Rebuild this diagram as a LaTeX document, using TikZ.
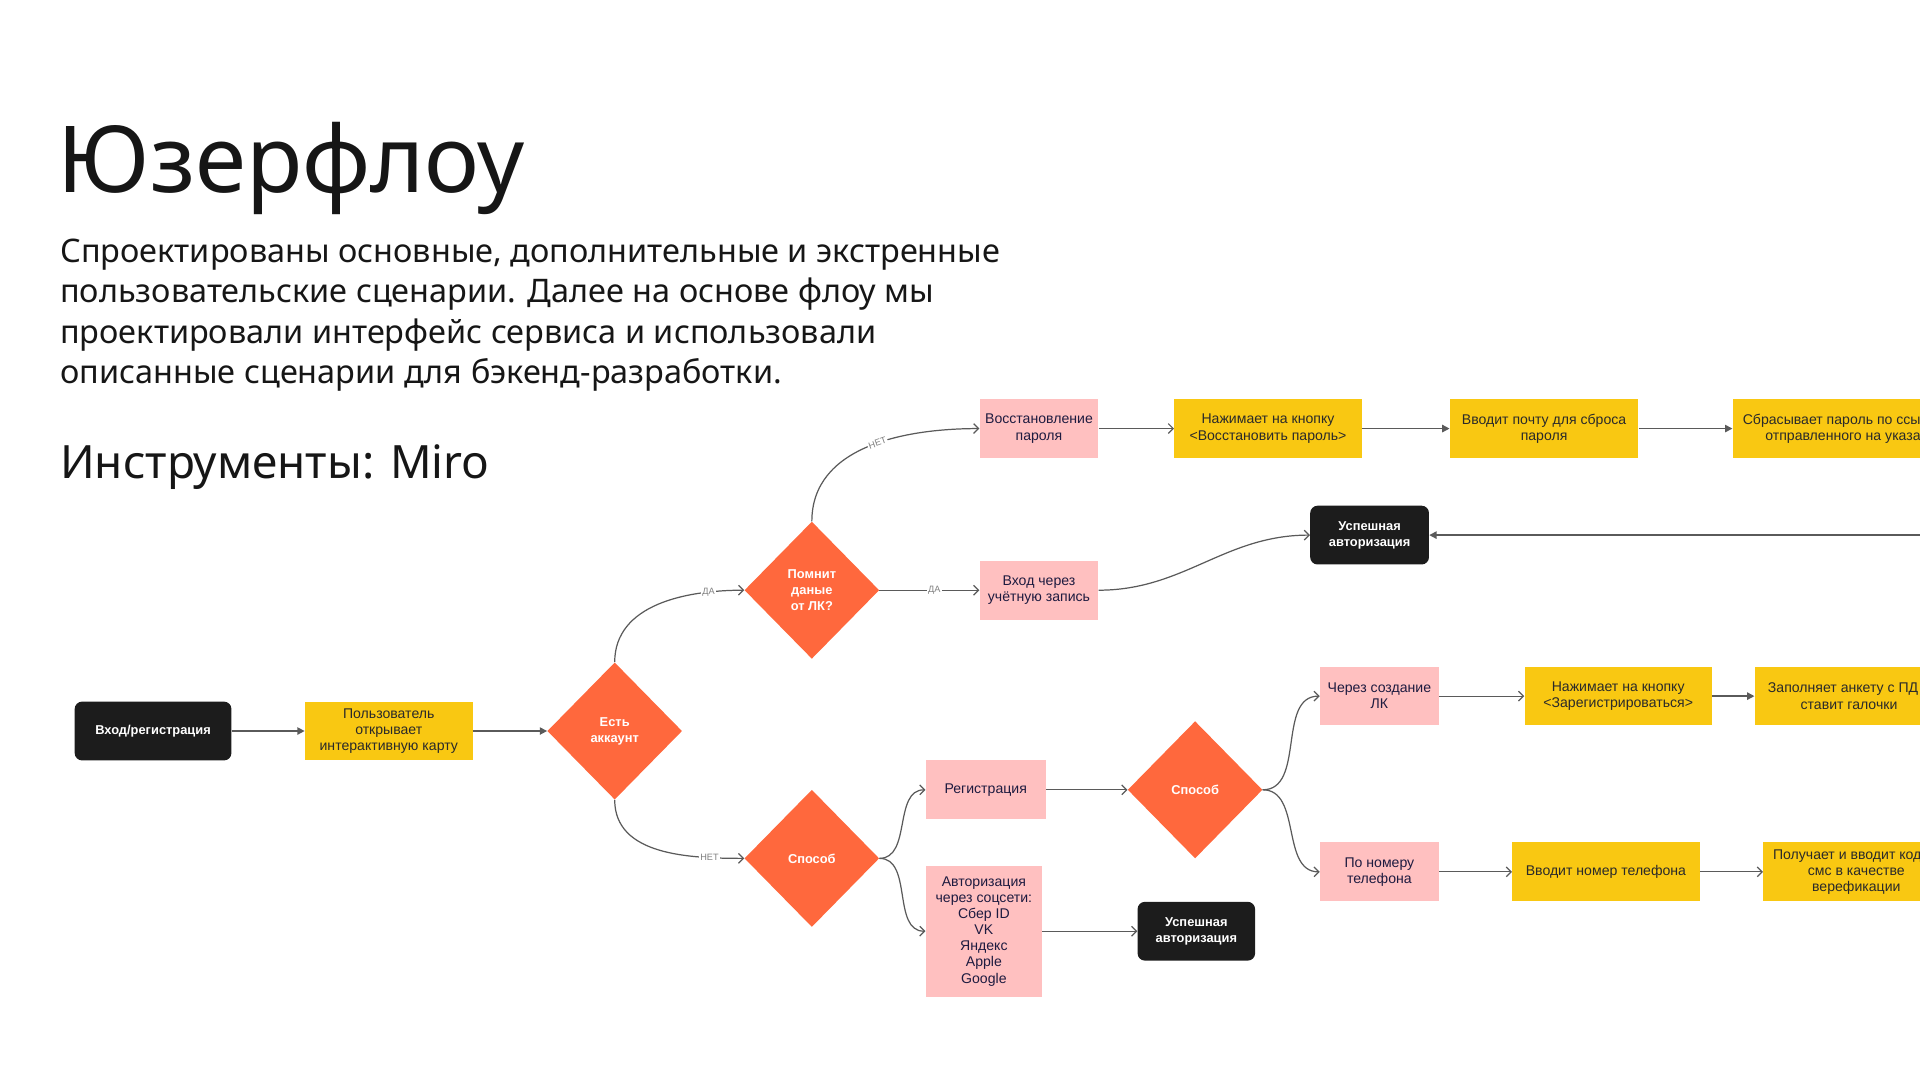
\documentclass[tikz,border=0pt]{standalone}
\usepackage{fontspec}
\usepackage{xcolor}
\setmainfont{Liberation Sans}
\newfontfamily\headfont{Noto Sans}
\usetikzlibrary{shapes.geometric,arrows.meta}

\definecolor{boxpink}{HTML}{FFC0C0}
\definecolor{boxyellow}{HTML}{F9C812}
\definecolor{decorange}{HTML}{FF683D}
\definecolor{termblack}{HTML}{1C1C1C}
\definecolor{pinktext}{HTML}{1E1B40}
\definecolor{yellowtext}{HTML}{2A2A2A}
\definecolor{linegray}{HTML}{5A5A5A}
\definecolor{headtext}{HTML}{161616}

\begin{document}
\begin{tikzpicture}[x=1pt,y=-1pt]
    \tikzstyle{T}=[rectangle,rounded corners=6pt,fill=termblack,text=white,font=\bfseries\fontsize{10.5}{13}\selectfont,align=center,minimum width=97pt,minimum height=48pt,inner sep=1pt]
    \tikzstyle{P}=[rectangle,fill=boxpink,text=pinktext,font=\fontsize{11.5}{13.2}\selectfont,align=center,minimum width=97pt,minimum height=48pt,inner sep=1pt]
    \tikzstyle{Y}=[rectangle,fill=boxyellow,text=yellowtext,font=\fontsize{11.5}{13.2}\selectfont,align=center,minimum width=153pt,minimum height=48pt,inner sep=1pt]
    \tikzstyle{D}=[diamond,fill=decorange,text=white,font=\bfseries\fontsize{10.5}{13}\selectfont,align=center,minimum width=110pt,minimum height=112pt,inner sep=0pt]
    \tikzstyle{A}=[draw=linegray,line width=1pt,-{Straight Barb[length=4pt,width=8pt]}]
    \tikzstyle{AF}=[draw=linegray,line width=1.2pt,-{Triangle[length=6pt,width=6pt]}]
    \tikzstyle{lbl}=[fill=white,text=gray,font=\fontsize{7.5}{8}\selectfont,inner sep=1pt]

    \useasboundingbox (0,0) rectangle (1568,882);
    \clip (0,0) rectangle (1568,882);

    % Heading
    \node [anchor=base west,inner sep=0pt,text=headtext,font=\headfont\fontsize{75.5}{82}\selectfont] (title) at (47,157) {Юзерфлоу};
    \node [anchor=north west,inner sep=0pt,align=left,text=headtext,font=\headfont\fontsize{26.5}{33}\selectfont] (about) at (49,195)
        {Спроектированы основные, дополнительные и экстренные\\
         пользовательские сценарии. Далее на основе флоу мы\\
         проектировали интерфейс сервиса и использовали\\
         описанные сценарии для бэкенд-разработки.};
    \node [anchor=base west,inner sep=0pt,text=headtext,font=\headfont\fontsize{37.5}{42}\selectfont] (tools) at (49,391) {Инструменты: Miro};

    % Start
    \node [T,minimum width=128pt] (start) at (125,597) {Вход/регистрация};
    \node [Y,minimum width=137pt] (user) at (317.5,597) {Пользователь\\открывает\\интерактивную карту};
    \node [D] (acc) at (502,597) {Есть\\аккаунт};

    % Has account
    \node [D] (rem) at (663,482) {Помнит\\даные\\от ЛК?};
    \node [P] (restore) at (848.5,350) {Восстановление\\пароля};
    \node [Y] (pressRestore) at (1035.5,350) {Нажимает на кнопку\\<Восстановить пароль>};
    \node [Y,minimum width=154pt] (mail) at (1261,350) {Вводит почту для сброса\\пароля};
    \node [Y,minimum width=240pt] (reset) at (1535,350) {Сбрасывает пароль по ссылке из письма,\\отправленного на указанную почту};
    \node [P] (login) at (848.5,482) {Вход через\\учётную запись};
    \node [T] (okTop) at (1118.5,437) {Успешная\\авторизация};
    \coordinate (rightEdge) at (1580,437);

    % No account
    \node [D] (way) at (663,701) {Способ};
    \node [P,minimum width=98pt] (reg) at (805,645) {Регистрация};
    \node [P,minimum width=95pt,minimum height=107pt] (social) at (803.5,760.5) {Авторизация\\через соцсети:\\Сбер ID\\VK\\Яндекс\\Apple\\Google};
    \node [T,minimum width=96pt] (okSocial) at (977,760.5) {Успешная\\авторизация};
    \node [D] (regWay) at (976,645) {Способ};

    % Registration
    \node [P,minimum height=47pt] (viaLK) at (1126.5,568.5) {Через создание\\ЛК};
    \node [Y,minimum height=47pt] (pressReg) at (1321.5,568.5) {Нажимает на кнопку\\<Зарегистрироваться>};
    \node [Y,minimum width=154pt,minimum height=47pt] (form) at (1510,568.5) {Заполняет анкету с ПД и\\ставит галочки};
    \node [P] (viaPhone) at (1126.5,712) {По номеру\\телефона};
    \node [Y] (phone) at (1311.5,712) {Вводит номер телефона};
    \node [Y,minimum width=152pt] (sms) at (1516,712) {Получает и вводит код из\\смс в качестве\\верефикации};

    % Draw connectors
    \draw [AF] (start) -- (user);
    \draw [AF] (user) -- (acc);
    \draw [A] (acc.north) to [out=90,in=180] node [lbl,pos=0.8] {ДА} (rem.west);
    \draw [A] (acc.south) to [out=-90,in=180] node [lbl,pos=0.8] {НЕТ} (way.west);
    \draw [A] (rem.north) to [out=90,in=180] node [lbl,pos=0.55,sloped] {НЕТ} (restore.west);
    \draw [A] (rem.east) -- node [lbl,pos=0.55] {ДА} (login.west);
    \draw [A] (login.east) to [out=0,in=180] (okTop.west);
    \draw [A] (restore) -- (pressRestore);
    \draw [AF] (pressRestore) -- (mail);
    \draw [AF] (mail) -- (reset);
    \draw [AF] (rightEdge) -- (okTop.east);

    \draw [A] (way.east) to [out=0,in=180] (reg.west);
    \draw [A] (way.east) to [out=0,in=180] (social.west);
    \draw [A] (reg) -- (regWay);
    \draw [A] (social.east) -- (okSocial.west);

    \draw [A] (regWay.east) to [out=0,in=180] (viaLK.west);
    \draw [A] (regWay.east) to [out=0,in=180] (viaPhone.west);
    \draw [A] (viaLK) -- (pressReg);
    \draw [AF] (pressReg) -- (form);
    \draw [A] (viaPhone) -- (phone);
    \draw [A] (phone) -- (sms);
\end{tikzpicture}
\end{document}
